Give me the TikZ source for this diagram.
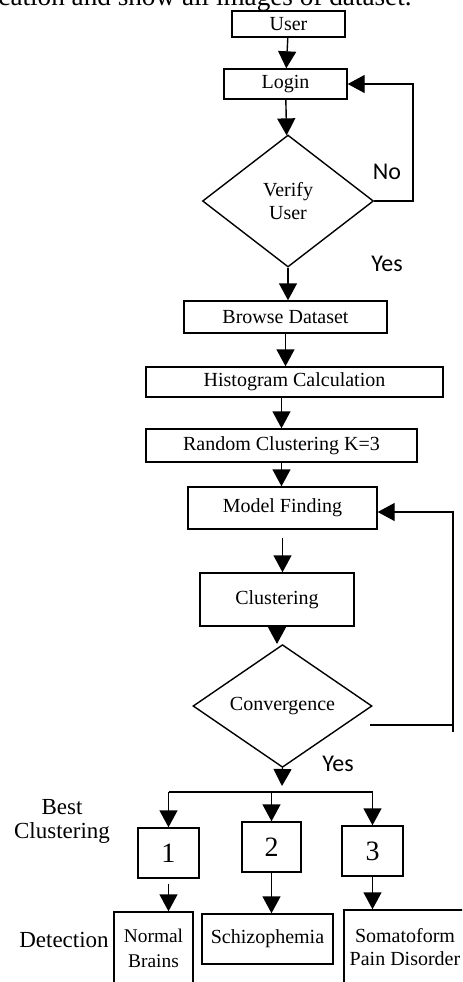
\documentclass[tikz,border=0pt]{standalone}
\usepackage{fontspec}
\setmainfont{Liberation Serif}
\newfontfamily\labelfont{Carlito}
\usepackage{tikz}
\usetikzlibrary{positioning,shapes.geometric,arrows.meta}

\begin{document}
\begin{tikzpicture}[x=0.5pt,y=-0.5pt,
    box/.style={draw, line width=0.7pt, inner sep=0pt, align=center, font=\fontsize{10}{11.5}\selectfont},
    decision/.style={draw, diamond, line width=0.7pt, inner sep=0pt, align=center, font=\fontsize{10}{11.5}\selectfont},
    numbox/.style={box, minimum width=30.5pt, minimum height=25pt, font=\fontsize{14}{16}\selectfont},
    arr/.style={line width=0.7pt, -{Triangle[width=9pt,length=8.5pt]}},
    yesno/.style={font=\labelfont\fontsize{12}{14}\selectfont},
    sidelbl/.style={align=center, font=\fontsize{11.5}{12}\selectfont}]
    \useasboundingbox (0,0) rectangle (462,982);
    \clip (0,0) rectangle (462,982);

    % Line of page text cut at the top
    \node[anchor=base east, inner sep=0pt, font=\fontsize{13.6}{16}\selectfont] (pagetext) at (412,5) {cation and show all images of dataset.};

    % Login part
    \node[box, minimum width=56.5pt, minimum height=13pt] (user) at (288.5,24) {User};
    \node[box, minimum width=61.5pt, minimum height=15pt] (login) at (285.5,84) {Login};
    \node[decision, minimum width=85.5pt, minimum height=66pt] (verify) at (288,201) {Verify\\User};
    \coordinate (noline) at (413,0);

    \draw[arr] (user) -- (login);
    \draw[arr] (login) -- (verify);
    \draw[arr] (verify.east) -- (verify.east -| noline) |- (login.east);
    \node[yesno] (no) at (387,172) {No};
    \node[yesno] (yes1) at (387,264) {Yes};

    % Processing steps
    \node[box, minimum width=101.5pt, minimum height=16pt] (browse) at (285.5,317) {Browse Dataset};
    \node[box, minimum width=148.5pt, minimum height=15pt] (hist) at (294.5,382) {Histogram Calculation};
    \node[box, minimum width=135.5pt, minimum height=16.5pt] (random) at (281.5,445.5) {Random Clustering K=3};
    \node[box, minimum width=94.5pt, minimum height=21pt] (model) at (282.5,508) {Model Finding};
    \node[box, minimum width=77pt, minimum height=26.5pt] (clust) at (277,599.5) {Clustering};
    \node[decision, minimum width=89.5pt, minimum height=46.5pt] (conv) at (282.5,706) {Convergence};

    \draw[arr] (verify.south) -- (verify.south |- browse.north);
    \draw[arr] (browse.south) -- (browse.south |- hist.north);
    \draw[arr] (random.north |- hist.south) -- (random.north);
    \draw[arr] (random.south) -- (random.south |- model.north);
    \draw[arr] ([yshift=-4pt]model.south) -- (model.south |- clust.north);
    \draw[arr] (clust.south) -- (clust.south |- conv.north);

    % Loop back from Convergence
    \coordinate (convout) at (370,725);
    \coordinate (fbk) at (453,732);
    \draw[line width=0.7pt] (convout) -- (convout -| fbk);
    \draw[arr] (fbk) |- ([yshift=-2pt]model.east);
    \node[yesno] (yes2) at (338,764) {Yes};

    % Best clustering
    \coordinate (split) at (282,792);
    \node[numbox] (b1) at (168.5,853) {1};
    \node[numbox, minimum width=29.5pt] (b2) at (271.5,847) {2};
    \node[numbox] (b3) at (372.5,851) {3};

    \draw[arr] (conv.south) -- ([yshift=3pt]split);
    \draw[line width=0.7pt] (b1.north |- split) -- (b3.north |- split);
    \foreach \b in {b1,b2,b3} {
        \draw[arr] (\b.north |- split) -- (\b.north);
    }

    % Detection
    \node[box, minimum width=39.5pt, minimum height=36pt, font=\fontsize{9.7}{12.5}\selectfont] (normal) at (153.5,948) {Normal\\Brains};
    \node[box, minimum width=65.5pt, minimum height=25pt] (schizo) at (267.5,939) {Schizophemia};
    \node[box, minimum width=61pt, minimum height=37pt] (somato) at (405,947) {Somatoform\\Pain Disorder};

    \draw[arr] ([yshift=-2.5pt]b1.south) -- (b1.south |- normal.north);
    \draw[arr] (b2.south) -- (b2.south |- schizo.north);
    \draw[arr] (b3.south) -- (b3.south |- somato.north);

    \node[sidelbl] (bestlbl) at (62,821) {Best\\Clustering};
    \node[sidelbl] (detlbl) at (64,940) {Detection};
\end{tikzpicture}
\end{document}
